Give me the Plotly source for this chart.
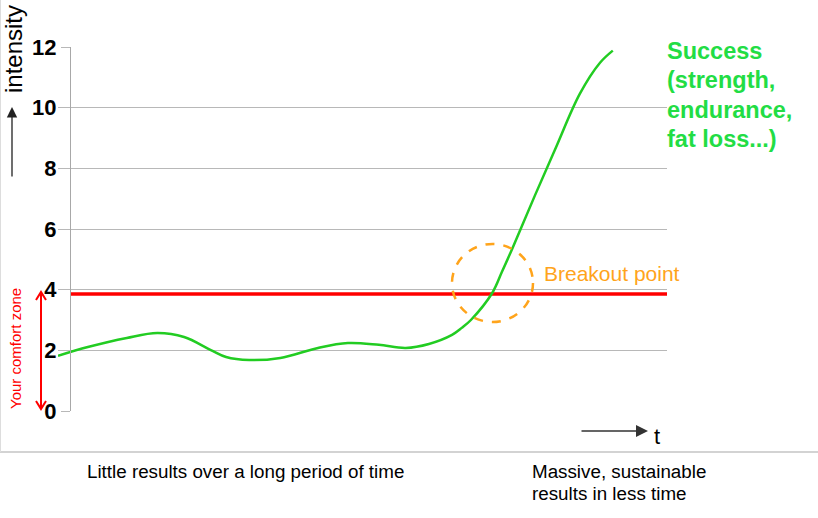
import plotly.graph_objects as go

# ---- data ----
time = [0, 4.9, 11.3, 16.3, 20.7, 25.1, 27.6, 31.4, 36.5, 42.7, 47.6, 52.7, 57.1, 60.9,
        64.7, 66.3, 67.8, 71.3, 72.9, 74.5, 75.9, 78.3, 81.6, 85.7, 89.0, 91.1]
intensity = [1.82, 2.11, 2.41, 2.57, 2.44, 2.01, 1.78, 1.68, 1.75, 2.08, 2.24, 2.18, 2.08, 2.21,
             2.51, 2.74, 3.0, 3.89, 4.59, 5.31, 5.97, 7.1, 8.61, 10.46, 11.48, 11.88]
comfort_level = 3.86
comfort_span = [2.0, 100]
y_ticks = [0, 2, 4, 6, 8, 10, 12]
success_lines = ["Success", "(strength,", "endurance,", "fat loss...)"]
bottom_left = "Little results over a long period of time"
bottom_right = ["Massive, sustainable", "results in less time"]

# ---- layout geometry (pixels) ----
W, H = 818, 518
L, R, T, B = 58, 667, 47, 411

def px(x):
    return (x - L) / (R - L)

def py(y):
    return (B - y) / (B - T)

FONT = "Liberation Sans, Arial, sans-serif"
GREEN_LINE = "#22cc22"
GREEN_TEXT = "#22dd44"
ORANGE = "#ffa41b"
GRID = "#b8b8b8"

fig = go.Figure()
fig.add_trace(go.Scatter(x=comfort_span, y=[comfort_level, comfort_level], mode="lines",
                         line=dict(color="#ff0000", width=3.5), hoverinfo="skip"))
fig.add_trace(go.Scatter(x=time, y=intensity, mode="lines",
                         line=dict(color=GREEN_LINE, width=2.5, shape="spline", smoothing=1.0),
                         hoverinfo="skip"))

shapes = [
    # breakout circle
    dict(type="circle", xref="paper", yref="paper", x0=px(452), x1=px(533), y0=py(322), y1=py(244),
         line=dict(color=ORANGE, width=2.5, dash="dash")),
    # bottom separator
    dict(type="line", xref="paper", yref="paper", x0=px(0), x1=px(818), y0=py(452), y1=py(452),
         line=dict(color="#c4c4c4", width=1.5)),
    # left frame
    dict(type="line", xref="paper", yref="paper", x0=px(0.5), x1=px(0.5), y0=py(0), y1=py(452),
         line=dict(color="#dddddd", width=1)),
    # comfort zone double arrow
    dict(type="line", xref="paper", yref="paper", x0=px(41), x1=px(41), y0=py(292), y1=py(409),
         line=dict(color="#ff0000", width=2)),
    dict(type="path", xref="paper", yref="paper",
         path=f"M {px(36)},{py(300)} L {px(41)},{py(292)} L {px(46)},{py(300)}",
         line=dict(color="#ff0000", width=2)),
    dict(type="path", xref="paper", yref="paper",
         path=f"M {px(36)},{py(401)} L {px(41)},{py(409)} L {px(46)},{py(401)}",
         line=dict(color="#ff0000", width=2)),
]

ann = []
# intensity label and arrow
ann.append(dict(xref="paper", yref="paper", x=px(14), y=py(49), text="intensity", showarrow=False,
                textangle=-90, font=dict(family=FONT, size=24, color="black"),
                xanchor="center", yanchor="middle"))
ann.append(dict(xref="paper", yref="paper", x=px(12), y=py(107), text="", showarrow=True,
                ax=0, ay=71, arrowhead=2, arrowsize=1.6, arrowwidth=1.3, arrowcolor="#222222"))
# t arrow and label
ann.append(dict(xref="paper", yref="paper", x=px(648), y=py(431), text="", showarrow=True,
                ax=-68, ay=0, arrowhead=2, arrowsize=1.6, arrowwidth=1.5, arrowcolor="#333333"))
ann.append(dict(xref="paper", yref="paper", x=px(657), y=py(436), text="t", showarrow=False,
                font=dict(family=FONT, size=22, color="black"), xanchor="center", yanchor="middle"))
# comfort zone label
ann.append(dict(xref="paper", yref="paper", x=px(15), y=py(349), text="Your comfort zone",
                showarrow=False, textangle=-90, font=dict(family=FONT, size=15, color="#ff0000"),
                xanchor="center", yanchor="middle"))
# breakout point
ann.append(dict(xref="paper", yref="paper", x=px(542), y=py(273), text="Breakout point",
                showarrow=False, font=dict(family=FONT, size=21, color=ORANGE),
                xanchor="left", yanchor="middle"))
# success text
for i, s in enumerate(success_lines):
    ann.append(dict(xref="paper", yref="paper", x=px(665), y=py(51 + 29.3 * i), text=f"<b>{s}</b>",
                    showarrow=False, font=dict(family=FONT, size=23.5, color=GREEN_TEXT),
                    xanchor="left", yanchor="middle"))
# bottom texts
ann.append(dict(xref="paper", yref="paper", x=px(245), y=py(471), text=bottom_left, showarrow=False,
                font=dict(family=FONT, size=18.8, color="black"), xanchor="center", yanchor="middle"))
for i, s in enumerate(bottom_right):
    ann.append(dict(xref="paper", yref="paper", x=px(530), y=py(471 + 22.5 * i), text=s,
                    showarrow=False, font=dict(family=FONT, size=18.8, color="black"),
                    xanchor="left", yanchor="middle"))

fig.update_layout(
    width=W, height=H, autosize=False,
    margin=dict(l=L, r=W - R, t=T, b=H - B, pad=0),
    paper_bgcolor="white", plot_bgcolor="white",
    showlegend=False,
    xaxis=dict(range=[0, 100], visible=False, fixedrange=True),
    yaxis=dict(range=[0, 12], tickvals=y_ticks, showgrid=True, gridcolor=GRID, gridwidth=1,
               zeroline=False, showline=True, linecolor="#a8a8a8", linewidth=1,
               ticks="outside", ticklen=9, tickcolor=GRID, tickwidth=1,
               tickfont=dict(family=FONT, size=22, color="black", weight="bold"),
               anchor="free", position=px(70), fixedrange=True),
    shapes=shapes,
    annotations=ann,
)

fig.write_html("out.html", config={"displayModeBar": False},
               post_script="document.body.style.margin='0';")
